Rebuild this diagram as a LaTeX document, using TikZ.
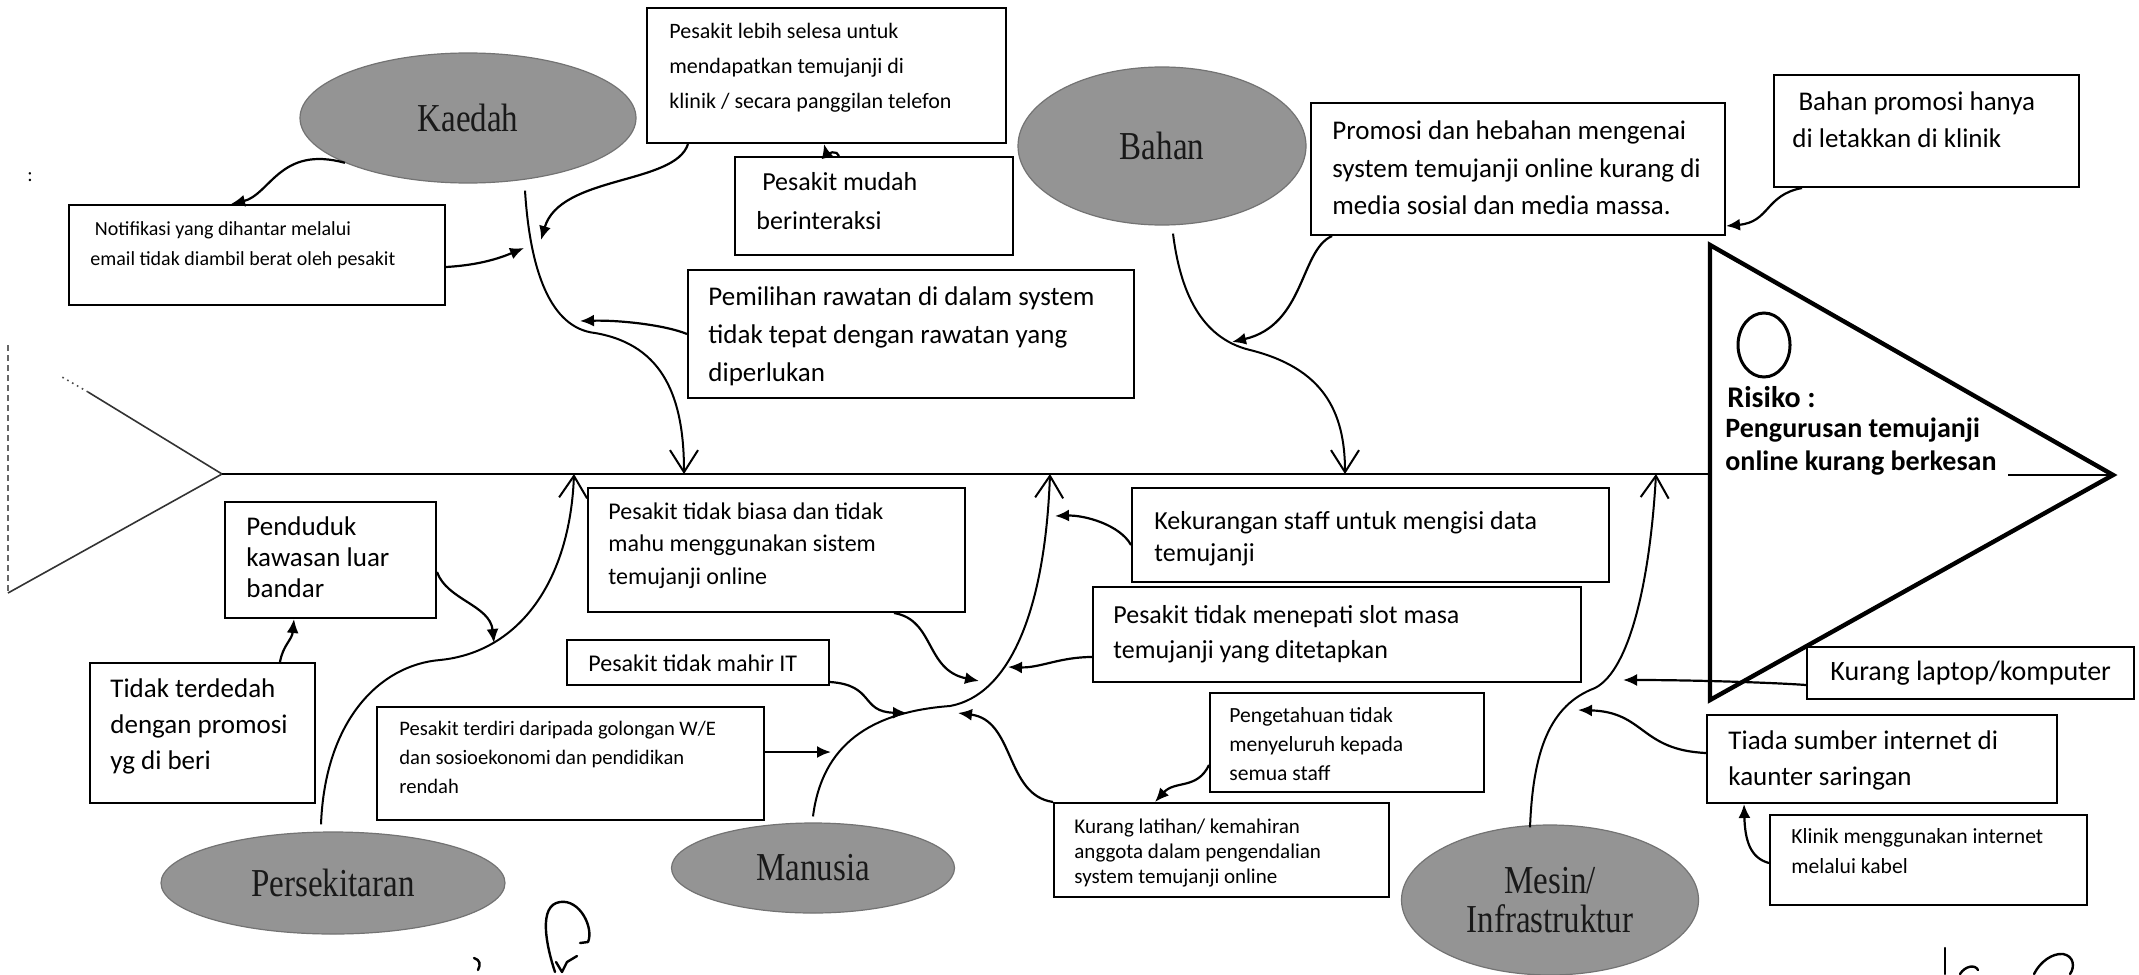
\documentclass[tikz,border=0pt]{standalone}
\usepackage{fontspec}
\setmainfont{Carlito}
\newfontfamily\ovalfont{Liberation Serif}
\usetikzlibrary{arrows.meta,fit,shapes.geometric}

\tikzset{
  box/.style={draw=black, line width=1pt, inner sep=0pt, rectangle},
  tx/.style 2 args={anchor=north west, inner sep=0pt, align=left, text=black,
    font=\fontsize{#1}{#2}\selectfont},
  blob/.style={ellipse, draw=black!55, line width=0.6pt, fill=black!42,
    inner sep=0pt, text=black!90, align=center,
    font=\ovalfont\fontsize{16.5}{19.5}\selectfont},
  bone/.style={line width=1pt, -{Straight Barb[length=11pt,width=14pt,line width=1pt]}},
  cause/.style={line width=1.1pt, -{Latex[length=7pt,width=6pt]}},
  spine/.style={line width=1.4pt},
  pen/.style={line width=1.2pt, line cap=round, line join=round},
}
\newcommand{\tall}[1]{\scalebox{1}[1.2]{#1}}

\begin{document}
\begin{tikzpicture}[x=0.5pt,y=-0.5pt]
\fill[white] (0,0) rectangle (2139,974);
\useasboundingbox (0,0) rectangle (2139,974);

% ---------- spine, tail and head ----------
\coordinate (tail) at (222,474);
\coordinate (headL) at (1710,474);
\coordinate (hTop) at (1710,245);
\coordinate (apex) at (2113,475);
\coordinate (hBot) at (1710,700);
\draw[line width=0.8pt, black!80] (tail) -- (88,392);
\draw[line width=0.8pt, black!70, dotted] (88,392) -- (62,377);
\draw[line width=0.8pt, black!80] (tail) -- (8,593);
\draw[line width=0.6pt, black!60, densely dashed] (8,345) -- (8,593);
\draw[spine] (tail) -- (headL);
\draw[line width=2.2pt, line join=miter] (hTop) -- (apex) -- (hBot) -- cycle;
\draw[line width=1pt] (2008,475) -- (apex);
\node[ellipse, draw, line width=1.5pt, minimum width=26pt, minimum height=32pt, inner sep=0pt] (oval) at (1764,345) {};
\node[anchor=base west, inner sep=0pt, font=\bfseries\fontsize{15}{18}\selectfont] (risk) at (1727,407) {Risiko :};
\node[tx={14}{16.5}, font=\bfseries\fontsize{14}{16.5}\selectfont] (risktxt) at (1725,414) {\strut Pengurusan temujanji\\online kurang berkesan};
\node[font=\fontsize{10}{12}\selectfont, inner sep=0pt] (mark) at (30,177) {:};

% ---------- category ovals ----------
\node[blob, minimum width=168pt, minimum height=65pt] (kaedah) at (468,118) {\tall{Kaedah}};
\node[blob, minimum width=144pt, minimum height=79pt] (bahan) at (1162,146) {\tall{Bahan}};
\node[blob, minimum width=172pt, minimum height=51pt] (pers) at (333,883) {\tall{Persekitaran}};
\node[blob, minimum width=141.5pt, minimum height=45pt] (man) at (813,868) {\tall{Manusia}};
\node[blob, minimum width=148.5pt, minimum height=75pt] (mesin) at (1550,900) {\tall{Mesin/}\\\tall{Infrastruktur}};

% ---------- cause boxes ----------
\node[box, fit={(647,8) (1006,143)}] (lebih) {};
\node[tx={11}{17.5}] (tlebih) at (669,14) {\strut Pesakit lebih selesa untuk\\mendapatkan temujanji di\\klinik / secara panggilan telefon};

\node[box, fit={(735,157) (1013,255)}] (mudah) {};
\node[tx={13}{19.5}] (tmudah) at (756,163) {\strut\ Pesakit mudah\\berinteraksi};

\node[box, fit={(69,205) (445,305)}] (notif) {};
\node[tx={10}{15}] (tnotif) at (90,214) {\strut\ Notifikasi yang dihantar melalui\\email tidak diambil berat oleh pesakit};

\node[box, fit={(688,270) (1134,398)}] (pemil) {};
\node[tx={13.5}{19}] (tpemil) at (708,278) {\strut Pemilihan rawatan di dalam system\\tidak tepat dengan rawatan yang\\diperlukan};

\node[box, fit={(1311,103) (1725,235)}] (promosi) {};
\node[tx={13.5}{18.75}] (tpromosi) at (1332,113) {\strut Promosi dan hebahan mengenai\\system temujanji online kurang di\\media sosial dan media massa.};

\node[box, fit={(1774,75) (2079,187)}] (bprom) {};
\node[tx={13.5}{18.5}] (tbprom) at (1792,84) {\strut\ Bahan promosi hanya\\di letakkan di klinik};

\node[box, fit={(225,502) (436,618)}] (pend) {};
\node[tx={13.5}{15.5}] (tpend) at (246,513) {\strut Penduduk\\kawasan luar\\bandar};

\node[box, fit={(90,663) (315,803)}] (terd) {};
\node[tx={13.5}{18}] (tterd) at (110,672) {\strut Tidak terdedah\\dengan promosi\\yg di beri};

\node[box, fit={(377,707) (764,820)}] (terdiri) {};
\node[tx={10.3}{14.5}] (tterdiri) at (399,715) {\strut Pesakit terdiri daripada golongan W/E\\dan sosioekonomi dan pendidikan\\rendah};

\node[box, fit={(567,640) (829,685)}] (mahir) {};
\node[tx={12}{15}] (tmahir) at (588,650) {\strut Pesakit tidak mahir IT};

\node[box, fit={(588,488) (965,612)}] (biasa) {};
\node[tx={12}{16.25}] (tbiasa) at (608,496) {\strut Pesakit tidak biasa dan tidak\\mahu menggunakan sistem\\temujanji online};

\node[box, fit={(1132,488) (1609,582)}] (kekur) {};
\node[tx={13}{16}] (tkekur) at (1154,507) {\strut Kekurangan staff untuk mengisi data\\temujanji};

\node[box, fit={(1093,587) (1581,682)}] (menep) {};
\node[tx={13}{17.5}] (tmenep) at (1113,599) {\strut Pesakit tidak menepati slot masa\\temujanji yang ditetapkan};

\node[box, fit={(1210,693) (1484,792)}] (penget) {};
\node[tx={10.8}{14.5}] (tpenget) at (1229,702) {\strut Pengetahuan tidak\\menyeluruh kepada\\semua staff};

\node[box, fit={(1054,803) (1389,897)}] (latih) {};
\node[tx={10.5}{12.5}] (tlatih) at (1074,816) {\strut Kurang latihan/ kemahiran\\anggota dalam pengendalian\\system temujanji online};

\node[box, fit={(1807,647) (2134,699)}] (laptop) {};
\node[tx={14}{17}] (tlaptop) at (1830,656) {\strut Kurang laptop/komputer};

\node[box, fit={(1707,715) (2057,803)}] (tiada) {};
\node[tx={13.5}{18}] (ttiada) at (1728,724) {\strut Tiada sumber internet di\\kaunter saringan};

\node[box, fit={(1770,815) (2087,905)}] (klinik) {};
\node[tx={10.8}{15}] (tklinik) at (1791,822) {\strut Klinik menggunakan internet\\melalui kabel};

% ---------- points where bones meet the spine ----------
\coordinate (kS) at (684,474);
\coordinate (bS) at (1345,474);
\coordinate (pS) at (574,474);
\coordinate (mS) at (1050,474);
\coordinate (zS) at (1656,474);

% ---------- bones ----------
\draw[bone] ([xshift=28.5pt,yshift=-3.5pt]kaedah.south) .. controls (530,270) and (550,328) .. (595,333)
  .. controls (665,345) and (684,400) .. (kS);
\draw[bone] ([xshift=5.5pt,yshift=-4pt]bahan.south) .. controls (1180,290) and (1200,338) .. (1250,350)
  .. controls (1322,368) and (1345,410) .. (bS);
\draw[bone] ([xshift=-6pt,yshift=3.5pt]pers.north) .. controls (325,720) and (380,665) .. (440,660)
  .. controls (520,652) and (570,580) .. (pS);
\draw[bone] ([yshift=3pt]man.north) .. controls (822,745) and (870,712) .. (950,706)
  .. controls (1010,695) and (1045,610) .. (mS);
\draw[bone] ([xshift=-10pt,yshift=-1.5pt]mesin.north) .. controls (1533,750) and (1550,705) .. (1595,688)
  .. controls (1630,670) and (1650,580) .. (zS);

% ---------- points on the bones ----------
\coordinate (kA) at (524,248);
\coordinate (kB) at (541,240);
\coordinate (kC) at (580,321);
\coordinate (bA) at (1232,342);
\coordinate (pA) at (494,643);
\coordinate (mA) at (979,681);
\coordinate (mB) at (907,713);
\coordinate (mC) at (831,752);
\coordinate (mD) at (1055,516);
\coordinate (mE) at (1008,667);
\coordinate (mF) at (958,713);
\coordinate (zA) at (1623,680);
\coordinate (zB) at (1578,710);

% ---------- cause arrows ----------
\draw[cause] (kaedah.200) .. controls (280,145) and (270,195) .. ([xshift=-13pt]notif.north);
\draw[cause] ([yshift=-6pt]notif.east) .. controls (480,265) and (500,258) .. (kA);
\draw[cause] ([xshift=21pt]lebih.south west) .. controls (675,185) and (560,175) .. (kB);
\draw[cause] (pemil.west) .. controls (665,325) and (620,320) .. (kC);
\draw[cause] ([xshift=-17.5pt]mudah.north) .. controls (838,150) and (826,152) .. ([xshift=-1.25pt]lebih.south);
\draw[cause] ([xshift=14.5pt]bprom.south west) .. controls (1765,195) and (1770,222) .. ([yshift=5pt]promosi.south east);
\draw[cause] ([xshift=11pt]promosi.south west) .. controls (1300,250) and (1305,325) .. (bA);
\draw[cause] ([yshift=-6pt]pend.east) .. controls (447,600) and (490,605) .. (pA);
\draw[cause] ([xshift=38.75pt]terd.north) .. controls (283,645) and (292,640) .. ([xshift=-18.25pt]pend.south);
\draw[cause] ([xshift=58.75pt]biasa.south) .. controls (935,620) and (925,670) .. (mA);
\draw[cause] ([yshift=2pt]mahir.south east) .. controls (875,685) and (860,712) .. (mB);
\draw[cause] ([yshift=5.75pt]terdiri.east) -- (mC);
\draw[cause] ([yshift=-5pt]kekur.west) .. controls (1120,525) and (1085,515) .. (mD);
\draw[cause] ([yshift=-11.25pt]menep.west) .. controls (1060,657) and (1040,668) .. (mE);
\draw[cause] (latih.north west) .. controls (1005,795) and (1015,720) .. (mF);
\draw[cause] ([yshift=-11.25pt]penget.west) .. controls (1197,790) and (1175,780) .. ([xshift=-33.25pt]latih.north);
\draw[cause] ([yshift=-6pt]laptop.west) .. controls (1780,683) and (1700,680) .. (zA);
\draw[cause] ([yshift=3pt]tiada.west) .. controls (1640,750) and (1645,712) .. (zB);
\draw[cause] ([yshift=-1.5pt]klinik.west) .. controls (1750,858) and (1745,840) .. ([xshift=-69pt]tiada.south);

% ---------- handwritten marks ----------
\draw[pen] (555,972) .. controls (546,945) and (538,905) .. (560,902)
  .. controls (580,899) and (594,928) .. (588,942) -- (580,943);
\draw[pen] (556,962) -- (562,972) -- (567,962) -- (577,956);
\draw[pen] (474,958) .. controls (480,960) and (481,964) .. (478,970);
\draw[pen] (1945,948) -- (1945,974);
\draw[pen] (1960,974) .. controls (1965,966) and (1975,964) .. (1978,970);
\draw[pen] (2034,974) .. controls (2040,962) and (2052,953) .. (2063,954)
  .. controls (2074,956) and (2075,967) .. (2070,974);
\end{tikzpicture}
\end{document}
